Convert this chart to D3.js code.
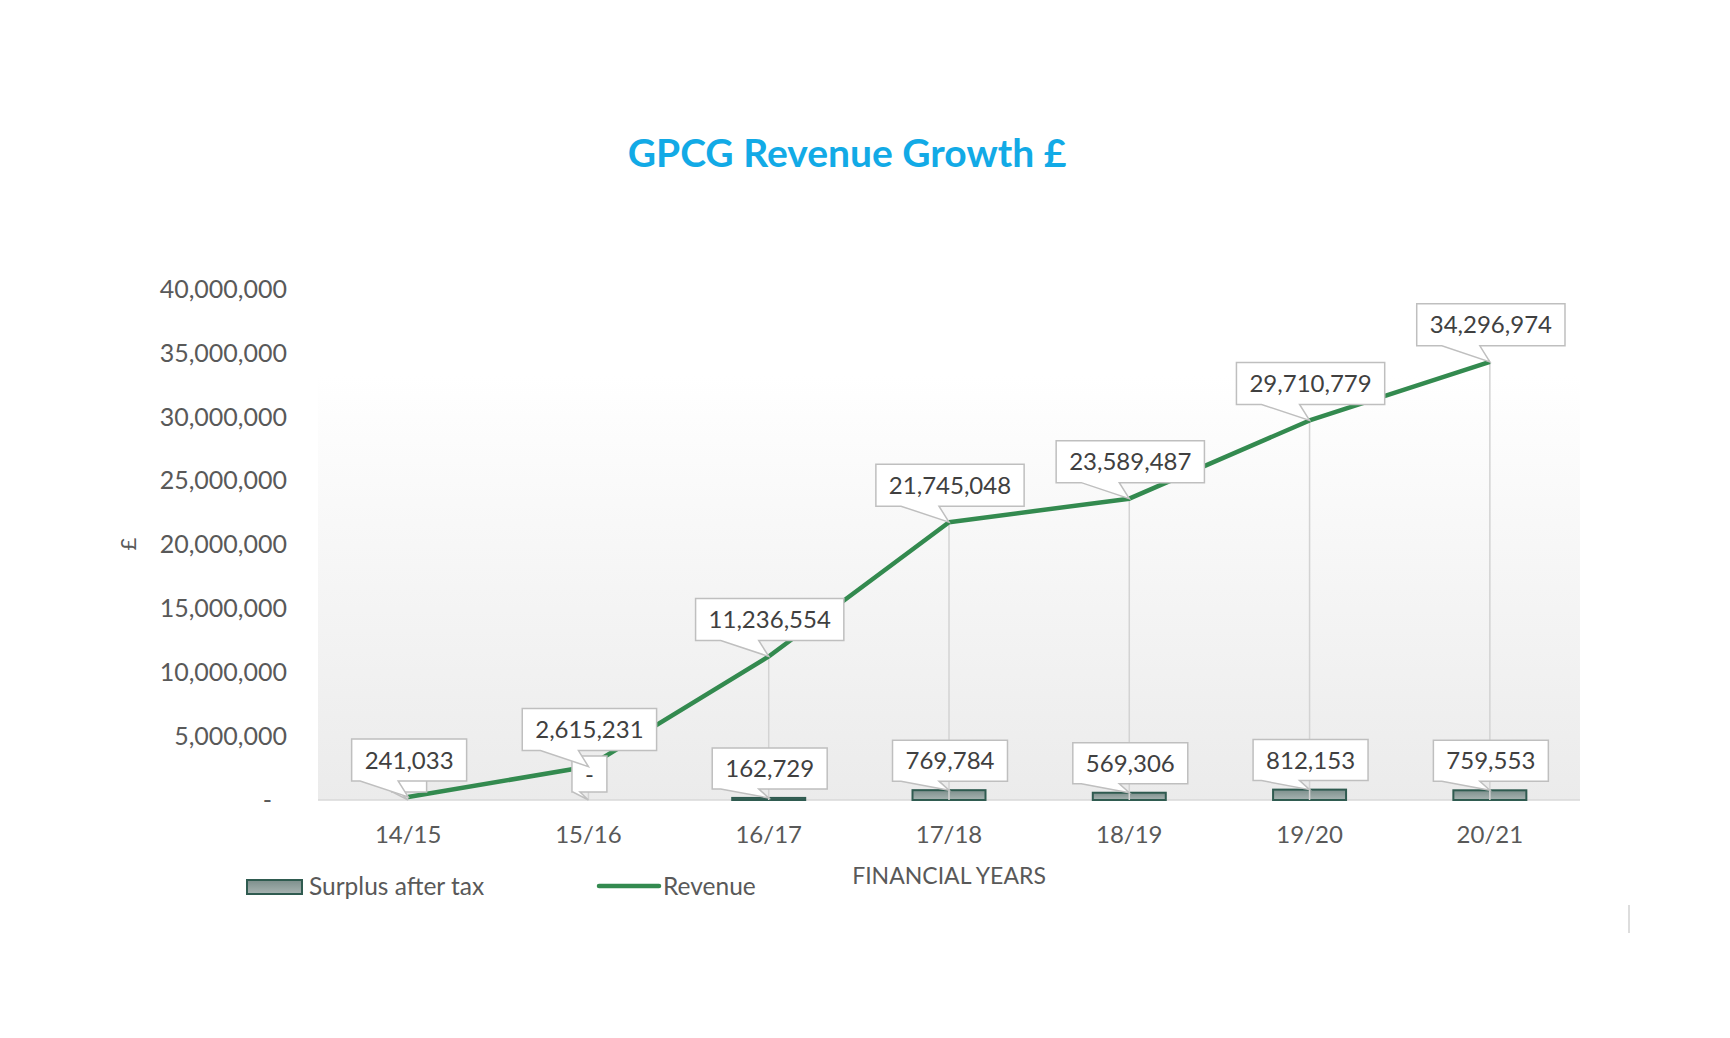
<!DOCTYPE html>
<html>
<head>
<meta charset="utf-8">
<script src="https://cdn.jsdelivr.net/npm/d3@7"></script>
<style>
  body { margin: 0; background: #fff; }
  svg text { font-family: Lato, "Open Sans", sans-serif; }
</style>
</head>
<body>
<div id="chart"></div>
<script>
// data
const years = ["14/15", "15/16", "16/17", "17/18", "18/19", "19/20", "20/21"];
const revenue = [241033, 2615231, 11236554, 21745048, 23589487, 29710779, 34296974];
const surplus = [0, 0, 162729, 769784, 569306, 812153, 759553];
const yTicks = [0, 5000000, 10000000, 15000000, 20000000, 25000000, 30000000, 35000000, 40000000];

const width = 1730;
const height = 1038;

const svg = d3.select("#chart").append("svg")
    .attr("width", width)
    .attr("height", height);

const defs = svg.append("defs");

// plot area gradient
const bg = defs.append("linearGradient").attr("id", "bgGrad")
    .attr("x1", 0).attr("y1", 0).attr("x2", 0).attr("y2", 1);
bg.append("stop").attr("offset", "0%").attr("stop-color", "#ffffff");
bg.append("stop").attr("offset", "100%").attr("stop-color", "#ebebeb");

const barGrad = defs.append("linearGradient").attr("id", "barGrad")
    .attr("x1", 0).attr("y1", 0).attr("x2", 0).attr("y2", 1);
barGrad.append("stop").attr("offset", "0%").attr("stop-color", "#7d8f8c");
barGrad.append("stop").attr("offset", "100%").attr("stop-color", "#a8b4b2");

const x = d3.scaleBand()
    .domain(years)
    .range([318, 1580]);

const y = d3.scaleLinear()
    .domain([0, 40000000])
    .range([800, 289]);

const fmt = v => v === 0 ? "-" : d3.format(",")(v);

// plot area background
svg.append("rect")
    .attr("x", x.range()[0])
    .attr("y", 375)
    .attr("width", x.range()[1] - x.range()[0])
    .attr("height", y(0) - 375)
    .attr("fill", "url(#bgGrad)");

// title
svg.append("text")
    .attr("x", 847)
    .attr("y", 167)
    .attr("text-anchor", "middle")
    .attr("font-size", 39)
    .attr("font-weight", "bold")
    .attr("fill", "#12aae6")
    .text("GPCG Revenue Growth £");

// y axis labels
svg.append("g")
    .selectAll("text")
    .data(yTicks)
    .join("text")
    .attr("x", d => d === 0 ? 272 : 287)
    .attr("y", d => y(d))
    .attr("dy", "0.35em")
    .attr("text-anchor", "end")
    .attr("font-size", 25)
    .attr("fill", "#595959")
    .text(fmt);

svg.append("text")
    .attr("transform", "translate(136,544) rotate(-90)")
    .attr("text-anchor", "middle")
    .attr("font-size", 22)
    .attr("fill", "#595959")
    .text("£");

// x axis line + labels
svg.append("line")
    .attr("x1", x.range()[0]).attr("x2", x.range()[1])
    .attr("y1", y(0)).attr("y2", y(0))
    .attr("stroke", "#d9d9d9")
    .attr("stroke-width", 1.5);

svg.append("g")
    .selectAll("text")
    .data(years)
    .join("text")
    .attr("x", d => x(d) + x.bandwidth() / 2)
    .attr("y", 843)
    .attr("text-anchor", "middle")
    .attr("font-size", 24)
    .attr("fill", "#595959")
    .text(d => d);

svg.append("text")
    .attr("x", 949)
    .attr("y", 884)
    .attr("text-anchor", "middle")
    .attr("font-size", 23)
    .attr("fill", "#595959")
    .text("FINANCIAL YEARS");

const cx = i => x(years[i]) + x.bandwidth() / 2;
const barW = 73;

// surplus bars
svg.append("g")
    .selectAll("rect")
    .data(years.map((yr, i) => ({ yr, v: surplus[i] })).filter(d => d.v > 0))
    .join("rect")
    .attr("x", d => x(d.yr) + x.bandwidth() / 2 - barW / 2)
    .attr("y", d => y(d.v))
    .attr("width", barW)
    .attr("height", d => y(0) - y(d.v))
    .attr("fill", "url(#barGrad)")
    .attr("stroke", "#2f5b50")
    .attr("stroke-width", 2);

// drop lines
svg.append("g")
    .selectAll("line")
    .data(revenue)
    .join("line")
    .attr("x1", (d, i) => cx(i)).attr("x2", (d, i) => cx(i))
    .attr("y1", d => y(d)).attr("y2", y(0))
    .attr("stroke", "#d3d3d3")
    .attr("stroke-width", 1.5);

// revenue line
const line = d3.line()
    .x((d, i) => cx(i))
    .y(d => y(d));

svg.append("path")
    .datum(revenue)
    .attr("d", line)
    .attr("fill", "none")
    .attr("stroke", "#338a4f")
    .attr("stroke-width", 4.5)
    .attr("stroke-linejoin", "round");

// callout label: box above tip with a small pointer
function callout(g, tx, ty, gap, label, boxH, showText) {
    const t = g.append("text")
        .attr("font-size", 24)
        .attr("fill", "#404040")
        .attr("text-anchor", "middle")
        .text(label);
    const tw = t.node().getComputedTextLength();
    const w = tw + 26;
    const x0 = tx - w / 2 + 1, x1 = x0 + w;
    const y1 = ty - gap, y0 = y1 - boxH;
    const bl = Math.max(x0 + 1, tx - 48);
    const br = Math.max(bl + 7, tx - 10);
    const p = d3.path();
    p.moveTo(x0, y0);
    p.lineTo(x1, y0);
    p.lineTo(x1, y1);
    p.lineTo(br, y1);
    p.lineTo(tx, ty);
    p.lineTo(bl, y1);
    p.lineTo(x0, y1);
    p.closePath();
    g.insert("path", "text")
        .attr("d", p.toString())
        .attr("fill", "#ffffff")
        .attr("stroke", "#bfbfbf")
        .attr("stroke-width", 1.5);
    t.attr("x", (x0 + x1) / 2).attr("y", (y0 + y1) / 2).attr("dy", "0.36em");
    if (!showText) t.remove();
}

// surplus labels first, revenue labels on top
// (the 14/15 surplus label sits hidden under the revenue label)
surplus.forEach((v, i) => {
    const g = svg.append("g");
    callout(g, cx(i), y(v), v === 0 ? 8 : 9, fmt(v), v === 0 ? 36 : 41, i > 0);
});
revenue.forEach((v, i) => {
    const g = svg.append("g");
    callout(g, cx(i), y(v), 16, fmt(v), 42, true);
});

// legend
const lg = svg.append("g");
lg.append("rect")
    .attr("x", 247).attr("y", 880)
    .attr("width", 55).attr("height", 14)
    .attr("fill", "url(#barGrad)")
    .attr("stroke", "#2f5b50")
    .attr("stroke-width", 2);
lg.append("text")
    .attr("x", 309).attr("y", 895)
    .attr("font-size", 24.5)
    .attr("fill", "#595959")
    .text("Surplus after tax");
lg.append("line")
    .attr("x1", 599).attr("x2", 659)
    .attr("y1", 886).attr("y2", 886)
    .attr("stroke", "#338a4f")
    .attr("stroke-width", 4.5)
    .attr("stroke-linecap", "round");
lg.append("text")
    .attr("x", 663).attr("y", 895)
    .attr("font-size", 24.5)
    .attr("fill", "#595959")
    .text("Revenue");

// faint mark bottom right
svg.append("line")
    .attr("x1", 1629).attr("x2", 1629)
    .attr("y1", 905).attr("y2", 933)
    .attr("stroke", "#dddddd")
    .attr("stroke-width", 2);
</script>
</body>
</html>
